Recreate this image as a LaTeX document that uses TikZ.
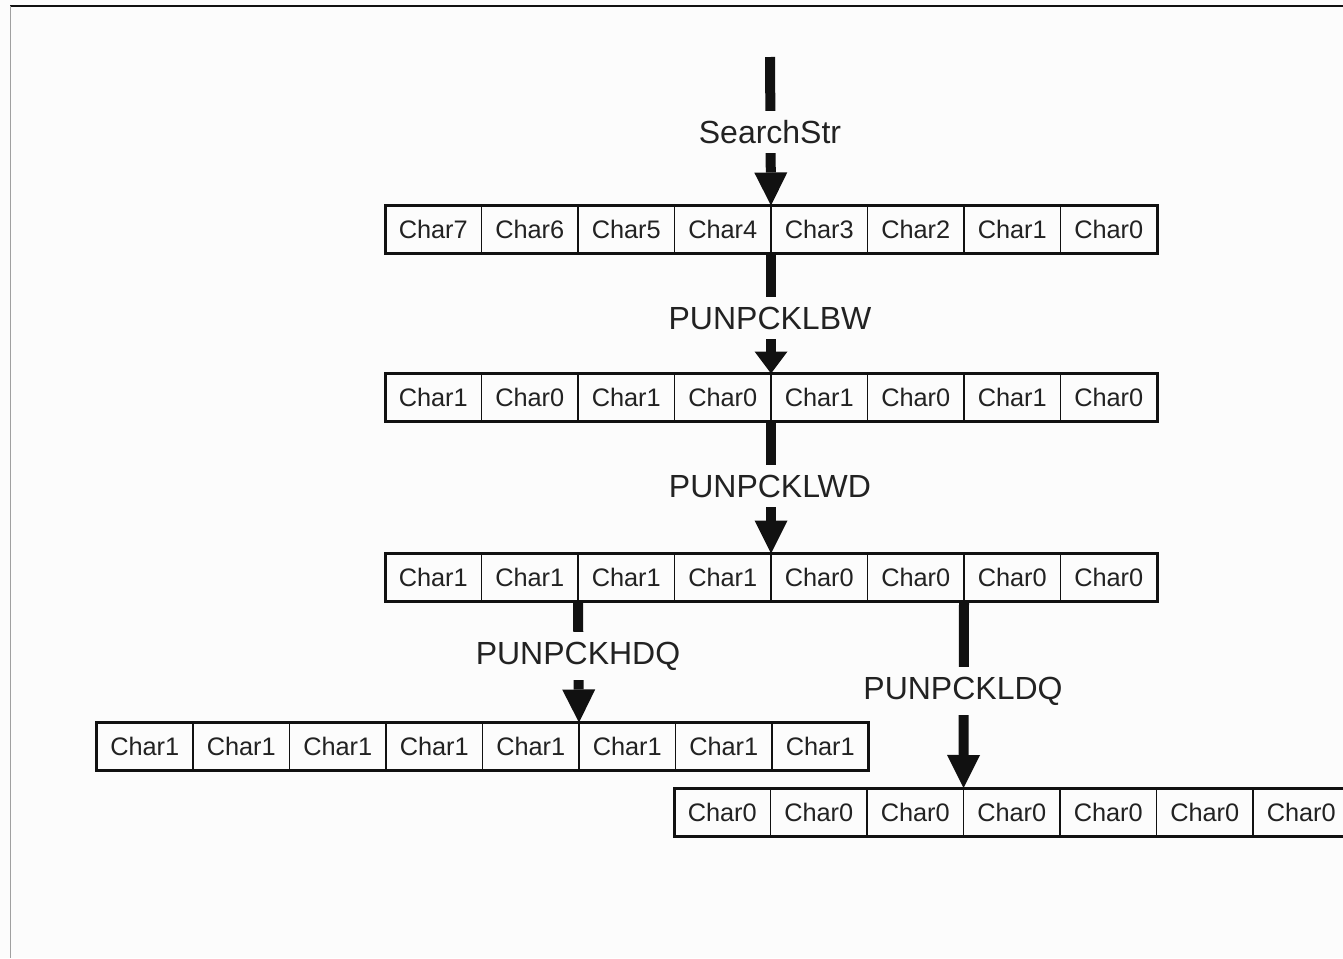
\documentclass[tikz,border=0pt]{standalone}
\usepackage{fontspec}
\setmainfont{Liberation Sans}
\usetikzlibrary{arrows.meta}
\definecolor{bg}{HTML}{FCFCFC}
\definecolor{ink}{HTML}{111111}
\definecolor{txt}{HTML}{222222}
\definecolor{edgegray}{HTML}{A0A0A0}
\tikzset{
  cell/.style={draw=ink, line width=1.1pt, rectangle, minimum width=72.375pt,
    minimum height=36pt, inner sep=0pt, outer sep=0pt, anchor=north west,
    font=\fontsize{19}{22}\selectfont, text=txt},
  regframe/.style={draw=ink, line width=2.25pt},
  bigarrow/.style={draw=ink, line width=7.5pt,
    -{Triangle[length=24.75pt, width=24.75pt, line width=0pt]}},
  shortarrow/.style={draw=ink, line width=7.5pt,
    -{Triangle[length=16.5pt, width=24.75pt, line width=0pt]}},
  lbl/.style={fill=bg, inner xsep=2pt, inner ysep=7pt,
    font=\fontsize{24}{27}\selectfont, text=txt},
}
\newcommand{\regcells}[4]{%
  \foreach \t [count=\i] in {#4} {
    \node[cell] (#1c\i) at ({#2+(\i-1)*96.5},#3) {\t};
  }%
}
\begin{document}
\begin{tikzpicture}[x=0.75pt,y=-0.75pt]
\useasboundingbox (0,0) rectangle (1343,958);
\clip (0,0) rectangle (1343,958);
\fill[bg] (0,0) rectangle (1343,958);
\draw[ink, line width=1.5pt] (10,5.5) -- (1343,5.5);
\draw[edgegray, line width=0.75pt] (10,5.5) -- (10,958);

% registers
\regcells{r1}{385}{205.5}{Char7,Char6,Char5,Char4,Char3,Char2,Char1,Char0}
\draw[regframe] (r1c1.north west) rectangle (r1c8.south east);
\regcells{r2}{385}{373.5}{Char1,Char0,Char1,Char0,Char1,Char0,Char1,Char0}
\draw[regframe] (r2c1.north west) rectangle (r2c8.south east);
\regcells{r3}{385}{553.5}{Char1,Char1,Char1,Char1,Char0,Char0,Char0,Char0}
\draw[regframe] (r3c1.north west) rectangle (r3c8.south east);
\regcells{r4}{96.5}{722.5}{Char1,Char1,Char1,Char1,Char1,Char1,Char1,Char1}
\draw[regframe] (r4c1.north west) rectangle (r4c8.south east);
\regcells{r5}{674}{788}{Char0,Char0,Char0,Char0,Char0,Char0,Char0}
\draw[regframe] (r5c1.north west) rectangle (r5c7.south east);

% arrows
\coordinate (src) at (770,57);
\draw[bigarrow] (src) -- (r1c4.north east);
\draw[shortarrow] (r1c4.south east) -- (r2c4.north east);
\draw[bigarrow] (r2c4.south east) -- (r3c4.north east);
\draw[bigarrow] (r3c2.south east) -- (r4c5.north east);
\draw[bigarrow] (r3c6.south east) -- (r5c3.north east);

% labels
\node[lbl] (l1) at (770,132) {SearchStr};
\node[lbl] (l2) at (770,318) {PUNPCKLBW};
\node[lbl] (l3) at (770,486) {PUNPCKLWD};
\node[lbl] (l4) at (578,656) {PUNPCKHDQ};
\node[lbl] (l5) at (963,691) {PUNPCKLDQ};
\end{tikzpicture}
\end{document}
